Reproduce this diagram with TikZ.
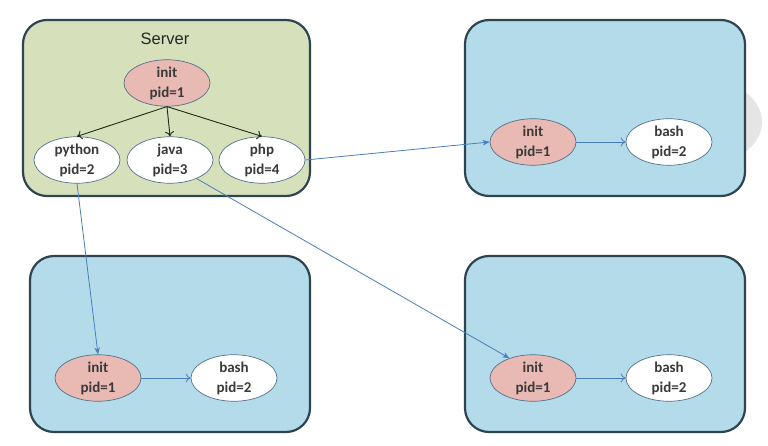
\documentclass[tikz,border=0pt]{standalone}
\usepackage{fontspec}
\setmainfont{Carlito}
\newfontfamily\labelfont{Liberation Sans}
\usetikzlibrary{arrows.meta,shapes.geometric}
\definecolor{boxgreen}{HTML}{D6E1BB}
\definecolor{boxblue}{HTML}{B3DBE9}
\definecolor{boxedge}{HTML}{2E4450}
\definecolor{initpink}{HTML}{E9B9B3}
\definecolor{ovaledge}{HTML}{55708A}
\definecolor{txt}{HTML}{3A3A3A}
\definecolor{linkblue}{HTML}{4A7EBB}
\definecolor{treeline}{HTML}{1F2A1A}
\tikzset{
  container/.style={draw=boxedge, line width=2.2pt, rounded corners=24pt},
  proc/.style={ellipse, draw=ovaledge, line width=0.7pt, minimum width=86pt, minimum height=46pt,
    inner sep=0pt, align=center, font=\fontsize{15}{20}\selectfont\bfseries, text=txt},
  initproc/.style={proc, fill=initpink},
  userproc/.style={proc, fill=white},
  link/.style={draw=linkblue, line width=0.8pt, -{Stealth[length=7pt,width=5.5pt]}},
  child/.style={draw=linkblue, line width=0.8pt, -{To[length=5pt,width=9pt]}},
  tree/.style={draw=treeline, line width=0.9pt, -{To[length=5pt,width=9pt]}}
}
\begin{document}
\begin{tikzpicture}[x=1pt,y=-1pt]
\useasboundingbox (0,0) rectangle (768,446);
% faint background disc
\fill[gray!20] (700,122) ellipse (62 and 44);
% containers
\draw[container, fill=boxgreen] (23,20) rectangle (310,196);
\draw[container, fill=boxblue] (465,20) rectangle (745,196);
\draw[container, fill=boxblue] (30,256) rectangle (310,432);
\draw[container, fill=boxblue] (465,256) rectangle (745,432);
% server
\node[font=\labelfont\fontsize{16.5}{18}\selectfont, text=black!85] (srv) at (165,39) {Server};
\node[initproc] (init0) at (167,83) {init\\pid=1};
\node[userproc] (python) at (77,160) {python\\pid=2};
\node[userproc] (java) at (170,160) {java\\pid=3};
\node[userproc] (php) at (262,160) {php\\pid=4};
\draw[tree] (init0.south) -- (python.north);
\draw[tree] (init0.south) -- (java.north);
\draw[tree] (init0.south) -- (php.north);
% top right
\node[initproc] (initA) at (533,142) {init\\pid=1};
\node[userproc] (bashA) at (669,142) {bash\\pid=2};
\draw[child] (initA) -- (bashA);
% bottom left
\node[initproc] (initB) at (98,378) {init\\pid=1};
\node[userproc] (bashB) at (234,378) {bash\\pid=2};
\draw[child] (initB) -- (bashB);
% bottom right
\node[initproc] (initC) at (533,378) {init\\pid=1};
\node[userproc] (bashC) at (669,378) {bash\\pid=2};
\draw[child] (initC) -- (bashC);
% cross links
\draw[link] (php.east) -- (initA.west);
\draw[link] (python.south) -- (initB.north);
\draw[link] (java.-35) -- (initC.140);
\end{tikzpicture}
\end{document}
